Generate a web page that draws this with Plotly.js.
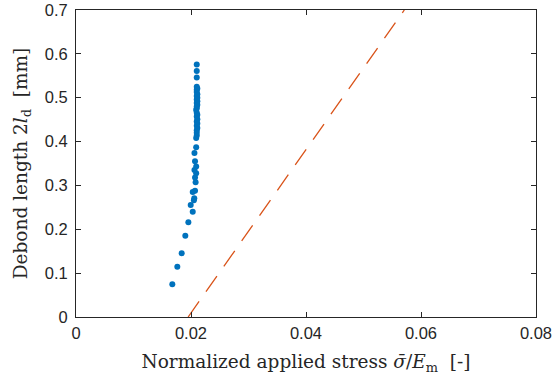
<!DOCTYPE html>
<html>
<head>
<meta charset="utf-8">
<script src="https://cdn.plot.ly/plotly-3.0.1.min.js"></script>
<style>html,body{margin:0;padding:0;background:#fff;}#chart{width:552px;height:380px;}</style>
</head>
<body>
<div id="chart"></div>
<script>
// Simulated debond length (dots)
var stressSim = [0.01675, 0.01762, 0.01838, 0.01901, 0.01954, 0.0203, 0.01995, 0.0205, 0.02057, 0.0203, 0.0207, 0.0208,
  0.0207, 0.0209, 0.0206, 0.0209, 0.0207, 0.0206, 0.0209,
  0.0209, 0.0210, 0.0210, 0.0210, 0.0211, 0.0210, 0.0211, 0.0210, 0.0211, 0.0210, 0.0211, 0.0210, 0.0209, 0.0210,
  0.0210, 0.0211, 0.0210, 0.0211, 0.0210, 0.0211, 0.0210, 0.0211, 0.0210, 0.0210, 0.0211,
  0.0210, 0.0210, 0.0210, 0.0210];
var lengthSim = [0.0747, 0.1144, 0.1453, 0.1855, 0.216, 0.240, 0.2554, 0.266, 0.271, 0.285, 0.288, 0.307,
  0.318, 0.328, 0.335, 0.343, 0.355, 0.374, 0.387,
  0.408, 0.414, 0.420, 0.426, 0.431, 0.436, 0.441, 0.446, 0.451, 0.457, 0.461, 0.466, 0.472, 0.476,
  0.480, 0.484, 0.488, 0.492, 0.496, 0.500, 0.504, 0.508, 0.513, 0.518, 0.521,
  0.525, 0.546, 0.561, 0.576];
// Analytical prediction (dashed line)
var stressModel = [0.0195, 0.0571];
var lengthModel = [0.0, 0.7];

var xTicks = [0, 0.02, 0.04, 0.06, 0.08];
var xTickLabels = ['0', '0.02', '0.04', '0.06', '0.08'];
var yTicks = [0, 0.1, 0.2, 0.3, 0.4, 0.5, 0.6, 0.7];
var yTickLabels = ['0', '0.1', '0.2', '0.3', '0.4', '0.5', '0.6', '0.7'];

var traces = [
  {x: stressModel, y: lengthModel, mode: 'lines', type: 'scatter',
   line: {color: '#D95319', width: 1.3, dash: '19px,12px'}, hoverinfo: 'skip'},
  {x: stressSim, y: lengthSim, mode: 'markers', type: 'scatter',
   marker: {color: '#0072BD', size: 6}, hoverinfo: 'skip'}
];

var axisCommon = {
  showgrid: false, zeroline: false, showline: true, linecolor: '#262626', linewidth: 1,
  mirror: 'ticks', ticks: 'inside', ticklen: 5, tickcolor: '#262626', tickwidth: 1,
  ticklabeloverflow: 'allow',
  tickfont: {family: 'Liberation Sans, Arial, sans-serif', size: 16.5, color: '#262626'}
};

var titleFont = {family: 'DejaVu Serif, serif', size: 18.5, color: '#262626'};
var layout = {
  width: 552, height: 380,
  margin: {l: 76, r: 16, t: 10, b: 63},
  paper_bgcolor: '#ffffff', plot_bgcolor: '#ffffff',
  showlegend: false,
  xaxis: Object.assign({}, axisCommon, {
    range: [0, 0.08], tickvals: xTicks, ticktext: xTickLabels, ticklabelstandoff: 1,
    title: {text: 'Normalized applied stress <i>σ̄</i>/<i>E</i><sub>m</sub>  [-]',
            font: titleFont, standoff: 14}
  }),
  yaxis: Object.assign({}, axisCommon, {
    range: [0, 0.7], tickvals: yTicks, ticktext: yTickLabels, ticklabelstandoff: 4,
    title: {text: 'Debond length 2<i>l</i><sub>d</sub>  [mm]',
            font: titleFont, standoff: 12}
  })
};

Plotly.newPlot('chart', traces, layout, {staticPlot: true, displayModeBar: false});
</script>
</body>
</html>
